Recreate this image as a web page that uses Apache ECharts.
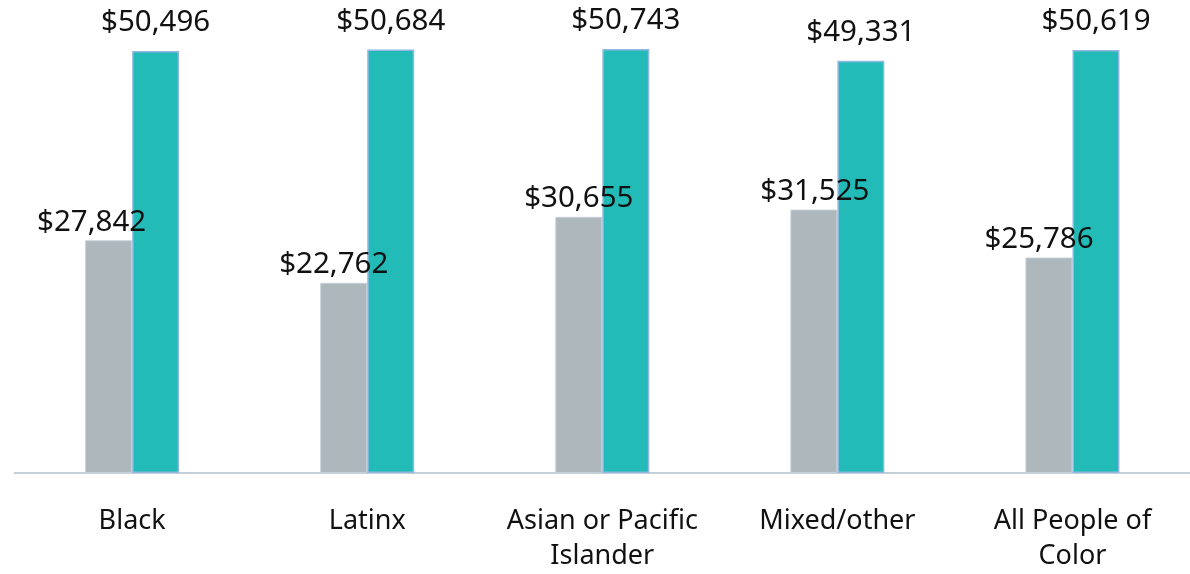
<!DOCTYPE html>
<html>
<head>
<meta charset="utf-8">
<script src="https://cdn.jsdelivr.net/npm/echarts@6/dist/echarts.min.js"></script>
<style>
  html, body { margin: 0; padding: 0; background: #ffffff; }
  #chart { width: 1190px; height: 574px; }
</style>
</head>
<body>
<div id="chart"></div>
<script>
// Median household income by group, two comparison series
const categories = ['Black', 'Latinx', 'Asian or Pacific\nIslander', 'Mixed/other', 'All People of\nColor'];
const seriesA = [27842, 22762, 30655, 31525, 25786];
const seriesB = [50496, 50684, 50743, 49331, 50619];

// horizontal nudges for the grey-bar labels so they clear the taller bar
const greyLabelNudge = [-17, -10, 0, 1, -10];

const fmt = v => '$' + v.toLocaleString('en-US');
const fontFamily = '"Noto Sans", "Open Sans", sans-serif';

const chart = echarts.init(document.getElementById('chart'), null, { renderer: 'canvas' });
chart.setOption({
  animation: false,
  grid: { left: 14.6, right: -8.4, top: 0, bottom: 100, containLabel: false },
  xAxis: {
    type: 'category',
    data: categories,
    axisLine: { show: true, lineStyle: { color: '#c5cfd8', width: 2 } },
    axisTick: { show: false },
    axisLabel: {
      color: '#111111', fontSize: 27, fontFamily, lineHeight: 35, margin: 31, interval: 0
    }
  },
  yAxis: {
    type: 'value', min: 0, max: 56600, show: false,
    splitLine: { show: false }
  },
  series: [
    {
      type: 'bar',
      barWidth: 47,
      barGap: '0%',
      data: seriesA.map((v, i) => ({
        value: v,
        label: { offset: [greyLabelNudge[i], 0] }
      })),
      itemStyle: { color: '#adb7bc', borderColor: '#c6d0d8', borderWidth: 1 },
      label: {
        show: true, position: 'top', distance: 3,
        formatter: p => fmt(p.value),
        color: '#111111', fontSize: 29.5, fontFamily
      }
    },
    {
      type: 'bar',
      barWidth: 47,
      data: seriesB,
      itemStyle: { color: '#22bbb7', borderColor: '#93b7e2', borderWidth: 1.5 },
      label: {
        show: true, position: 'top', distance: 13,
        formatter: p => fmt(p.value),
        color: '#111111', fontSize: 29.5, fontFamily
      }
    }
  ]
});
</script>
</body>
</html>
